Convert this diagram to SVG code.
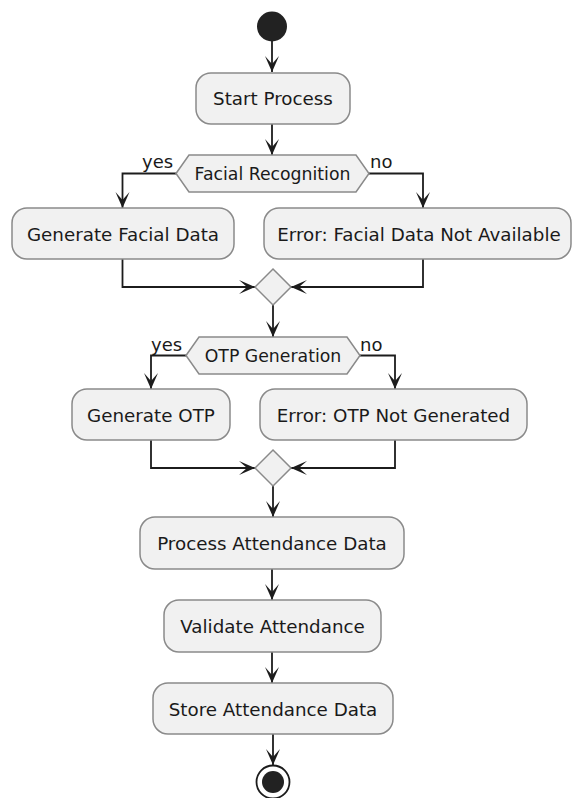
<svg xmlns="http://www.w3.org/2000/svg" width="574" height="798" viewBox="0 0 574 798">
<defs>
<marker id="arr" markerUnits="userSpaceOnUse" markerWidth="18" markerHeight="16" refX="16" refY="7" orient="auto" overflow="visible">
<path d="M0,0 L16,7 L0,14 L8,7 Z" fill="#1c1c1c"/>
</marker>
</defs>
<style>
.box{fill:#F1F1F1;stroke:#8a8a8a;stroke-width:1.5}
.t{font-family:"DejaVu Sans",sans-serif;font-size:18.3px;fill:#1a1a1a;text-anchor:middle;dominant-baseline:central}
.h{font-size:17.3px}
.lbl{font-family:"DejaVu Sans",sans-serif;font-size:18px;fill:#1a1a1a}
.ca{fill:none;stroke:#1c1c1c;stroke-width:1.8;marker-end:url(#arr)}
</style>
<rect width="574" height="798" fill="#ffffff"/>
<g id="connectors">
<path class="ca" d="M272,41 V72"/>
<path class="ca" d="M272,124 V155"/>
<path class="ca" d="M176,173.5 H122.5 V208"/>
<path class="ca" d="M369,173.5 H423 V208"/>
<path class="ca" d="M122.5,259 V287 H255"/>
<path class="ca" d="M423,259 V287 H291"/>
<path class="ca" d="M273,305 V337"/>
<path class="ca" d="M186,355.5 H151 V389"/>
<path class="ca" d="M360,355.5 H395 V389"/>
<path class="ca" d="M151,440 V468 H255"/>
<path class="ca" d="M395,440 V468 H291"/>
<path class="ca" d="M273,486 V517"/>
<path class="ca" d="M272,569 V600"/>
<path class="ca" d="M272,652 V683"/>
<path class="ca" d="M273,734 V765"/>
</g>
<g id="start"><circle cx="272" cy="26.5" r="15" fill="#222222"/></g>
<g id="startProcess"><rect class="box" x="196" y="73" width="154" height="51" rx="15"/><text class="t" x="273" y="98.5">Start Process</text></g>
<g id="facialRecognition"><polygon class="box" points="176,173.5 189,155 356,155 369,173.5 356,192 189,192"/><text class="t h" x="272.5" y="174">Facial Recognition</text>
<text class="lbl" x="142" y="168">yes</text><text class="lbl" x="370" y="168">no</text></g>
<g id="generateFacialData"><rect class="box" x="12" y="208" width="222" height="51" rx="15"/><text class="t" x="123" y="234">Generate Facial Data</text></g>
<g id="errorFacial"><rect class="box" x="264" y="208" width="307" height="51" rx="15"/><text class="t" x="419" y="234">Error: Facial Data Not Available</text></g>
<g id="merge1"><polygon class="box" points="273,269 291,287 273,305 255,287"/></g>
<g id="otpGeneration"><polygon class="box" points="186,355.5 199,337 347,337 360,355.5 347,374 199,374"/><text class="t h" x="273" y="356">OTP Generation</text>
<text class="lbl" x="151" y="351">yes</text><text class="lbl" x="360" y="351">no</text></g>
<g id="generateOTP"><rect class="box" x="72" y="389" width="158" height="51" rx="15"/><text class="t" x="151" y="415">Generate OTP</text></g>
<g id="errorOTP"><rect class="box" x="260" y="389" width="267" height="51" rx="15"/><text class="t" x="393.5" y="415">Error: OTP Not Generated</text></g>
<g id="merge2"><polygon class="box" points="273,450 291,468 273,486 255,468"/></g>
<g id="processAttendance"><rect class="box" x="140" y="517" width="264" height="52" rx="15"/><text class="t" x="272" y="543.5">Process Attendance Data</text></g>
<g id="validateAttendance"><rect class="box" x="164" y="600" width="217" height="52" rx="15"/><text class="t" x="272.5" y="626.5">Validate Attendance</text></g>
<g id="storeAttendance"><rect class="box" x="153" y="683" width="240" height="51" rx="15"/><text class="t" x="273" y="709">Store Attendance Data</text></g>
<g id="end"><circle cx="273" cy="782" r="16.5" fill="#ffffff" stroke="#1c1c1c" stroke-width="1.8"/><circle cx="273" cy="782" r="11" fill="#222222"/></g>
</svg>
